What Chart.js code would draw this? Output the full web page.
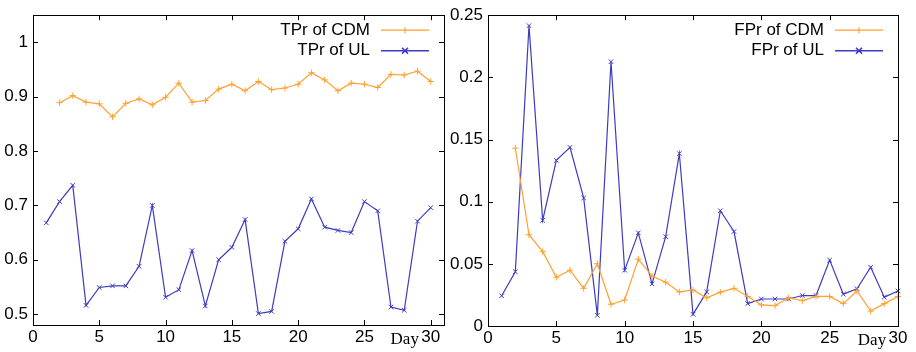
<!DOCTYPE html>
<html>
<head>
<meta charset="utf-8">
<script src="https://cdn.jsdelivr.net/npm/chart.js@4/dist/chart.umd.min.js"></script>
<style>
  html, body { margin: 0; padding: 0; background: #fff; }
  #wrap { position: relative; width: 916px; height: 352px; }
  #tpr { position: absolute; left: 0; top: 0; }
  #fpr { position: absolute; left: 449px; top: 0; }
</style>
</head>
<body>
<div id="wrap">
  <canvas id="tpr" width="449" height="352"></canvas>
  <canvas id="fpr" width="467" height="352"></canvas>
</div>
<script>
// data (day 1 has no CDM value)
var days = [1, 2, 3, 4, 5, 6, 7, 8, 9, 10, 11, 12, 13, 14, 15, 16, 17, 18, 19, 20, 21, 22, 23, 24, 25, 26, 27, 28, 29, 30];

var tprCDM = [null, 0.889, 0.902, 0.890, 0.887, 0.863, 0.888, 0.896, 0.885, 0.899,
              0.925, 0.890, 0.893, 0.914, 0.923, 0.911, 0.928, 0.913, 0.916, 0.923,
              0.944, 0.931, 0.911, 0.925, 0.923, 0.917, 0.941, 0.940, 0.947, 0.928];
var tprUL = [0.668, 0.707, 0.737, 0.516, 0.549, 0.552, 0.552, 0.588, 0.700, 0.531,
             0.545, 0.617, 0.515, 0.600, 0.623, 0.674, 0.501, 0.505, 0.634, 0.657,
             0.712, 0.660, 0.654, 0.650, 0.707, 0.690, 0.513, 0.507, 0.671, 0.696];

var fprCDM = [null, 0.143, 0.0734, 0.0598, 0.0392, 0.0449, 0.0303, 0.0501, 0.0175, 0.0209,
              0.0538, 0.0402, 0.0352, 0.0274, 0.029, 0.0227, 0.0272, 0.0303, 0.0238, 0.017,
              0.0164, 0.0225, 0.0204, 0.0238, 0.0238, 0.018, 0.0282, 0.012, 0.018, 0.0238];
var fprUL = [0.0243, 0.0436, 0.2416, 0.085, 0.1332, 0.1437, 0.103, 0.0086, 0.2126, 0.0449,
             0.0749, 0.0339, 0.0718, 0.1387, 0.0094, 0.0274, 0.0927, 0.076, 0.018, 0.0217,
             0.0217, 0.0217, 0.0245, 0.0245, 0.053, 0.0256, 0.030, 0.0473, 0.0232, 0.0282];

var xTicks = [0, 5, 10, 15, 20, 25, 30];
var xTickLabels = ['0', '5', '10', '15', '20', '25', '30'];
var tprTicks = [0.5, 0.6, 0.7, 0.8, 0.9, 1];
var tprTickLabels = ['0.5', '0.6', '0.7', '0.8', '0.9', '1'];
var fprTicks = [0, 0.05, 0.1, 0.15, 0.2, 0.25];
var fprTickLabels = ['0', '0.05', '0.1', '0.15', '0.2', '0.25'];

var ORANGE = '#ffa030';
var BLUE = '#3c3cc0';
var tickFont = { family: 'Liberation Sans', size: 17 };

function toPoints(vals) {
    var pts = [];
    for (var i = 0; i < days.length; i++) {
        if (vals[i] !== null) pts.push({ x: days[i], y: vals[i] });
    }
    return pts;
}

function fixedTicks(values, labels) {
    return {
        afterBuild: function (scale) {
            scale.ticks = values.map(function (v) { return { value: v }; });
        },
        label: function (value) {
            var i = values.indexOf(value);
            return i >= 0 ? labels[i] : '';
        }
    };
}

// box round the plot with inward ticks on all four sides, like gnuplot
var frameTicks = {
    id: 'frameTicks',
    afterDraw: function (chart) {
        var ctx = chart.ctx, a = chart.chartArea;
        var x = chart.scales.x, y = chart.scales.y;
        var len = 5;
        ctx.save();
        ctx.strokeStyle = '#000';
        ctx.lineWidth = 1;
        ctx.strokeRect(Math.round(a.left) + 0.5, Math.round(a.top) + 0.5,
            Math.round(a.right - a.left), Math.round(a.bottom - a.top));
        ctx.beginPath();
        x.ticks.forEach(function (t) {
            var p = Math.round(x.getPixelForValue(t.value)) + 0.5;
            ctx.moveTo(p, a.bottom); ctx.lineTo(p, a.bottom - len);
            ctx.moveTo(p, a.top); ctx.lineTo(p, a.top + len);
        });
        y.ticks.forEach(function (t) {
            var p = Math.round(y.getPixelForValue(t.value)) + 0.5;
            ctx.moveTo(a.left, p); ctx.lineTo(a.left + len, p);
            ctx.moveTo(a.right, p); ctx.lineTo(a.right - len, p);
        });
        ctx.stroke();

        // "Day" caption next to the last x tick
        ctx.fillStyle = '#000';
        ctx.font = '17px "Liberation Serif"';
        ctx.textAlign = 'center';
        ctx.textBaseline = 'alphabetic';
        ctx.fillText('Day', x.getPixelForValue(30) - 26, a.bottom + 19);
        ctx.restore();
    }
};

// legend in the top right corner: text, then a line sample with its marker
var cornerLegend = {
    id: 'cornerLegend',
    afterDraw: function (chart) {
        var ctx = chart.ctx, a = chart.chartArea;
        var lineEnd = a.right - 15, lineStart = lineEnd - 48;
        ctx.save();
        ctx.font = '17px "Liberation Sans"';
        ctx.textAlign = 'right';
        ctx.textBaseline = 'middle';
        chart.data.datasets.forEach(function (ds, i) {
            var yy = a.top + 15 + i * 20.5;
            ctx.fillStyle = '#000';
            ctx.fillText(ds.label, lineStart - 11, yy);
            ctx.strokeStyle = ds.borderColor;
            ctx.lineWidth = i == 1 ? 1.6 : 1.2;
            ctx.beginPath();
            ctx.moveTo(lineStart, yy); ctx.lineTo(lineEnd, yy);
            var m = (lineStart + lineEnd) / 2, r = 3;
            if (ds.pointStyle == 'cross') {
                ctx.moveTo(m - r, yy); ctx.lineTo(m + r, yy);
                ctx.moveTo(m, yy - r); ctx.lineTo(m, yy + r);
            } else {
                ctx.moveTo(m - r, yy - r); ctx.lineTo(m + r, yy + r);
                ctx.moveTo(m - r, yy + r); ctx.lineTo(m + r, yy - r);
            }
            ctx.stroke();
        });
        ctx.restore();
    }
};

function series(label, vals, color, style) {
    return {
        label: label,
        data: toPoints(vals),
        borderColor: color,
        backgroundColor: color,
        borderWidth: 1.2,
        pointStyle: style,
        pointRadius: 3.2,
        pointBorderWidth: 1,
        pointBorderColor: color,
        tension: 0,
        fill: false,
        clip: false
    };
}

function MakeChart(id, datasets, xMax, yMin, yMax, yT, yL, yWidth, xHeight, padRight) {
    var xt = fixedTicks(xTicks, xTickLabels);
    var yt = fixedTicks(yT, yL);
    var ctx = document.getElementById(id).getContext('2d');
    return new Chart(ctx, {
        type: 'line',
        data: { datasets: datasets },
        options: {
            responsive: false,
            animation: false,
            layout: { padding: { left: 0, right: padRight, top: 7, bottom: 0 } },
            plugins: { legend: { display: false }, tooltip: { enabled: false } },
            scales: {
                x: {
                    type: 'linear', min: 0, max: xMax,
                    grid: { display: false, drawTicks: false },
                    border: { display: false },
                    ticks: { font: tickFont, color: '#000', padding: 2, maxRotation: 0, callback: xt.label },
                    afterBuildTicks: xt.afterBuild,
                    afterFit: function (s) { s.height = xHeight; }
                },
                y: {
                    type: 'linear', min: yMin, max: yMax,
                    grid: { display: false, drawTicks: false },
                    border: { display: false },
                    ticks: { font: tickFont, color: '#000', padding: 5, callback: yt.label },
                    afterBuildTicks: yt.afterBuild,
                    afterFit: function (s) { s.width = yWidth; }
                }
            }
        },
        plugins: [frameTicks, cornerLegend]
    });
}

MakeChart('tpr', [
    series('TPr of CDM', tprCDM, ORANGE, 'cross'),
    series('TPr of UL', tprUL, BLUE, 'crossRot')
], 31, 0.48, 1.05, tprTicks, tprTickLabels, 33, 27, 2);

MakeChart('fpr', [
    series('FPr of CDM', fprCDM, ORANGE, 'cross'),
    series('FPr of UL', fprUL, BLUE, 'crossRot')
], 30, 0, 0.25, fprTicks, fprTickLabels, 39, 26, 18);
</script>
</body>
</html>
